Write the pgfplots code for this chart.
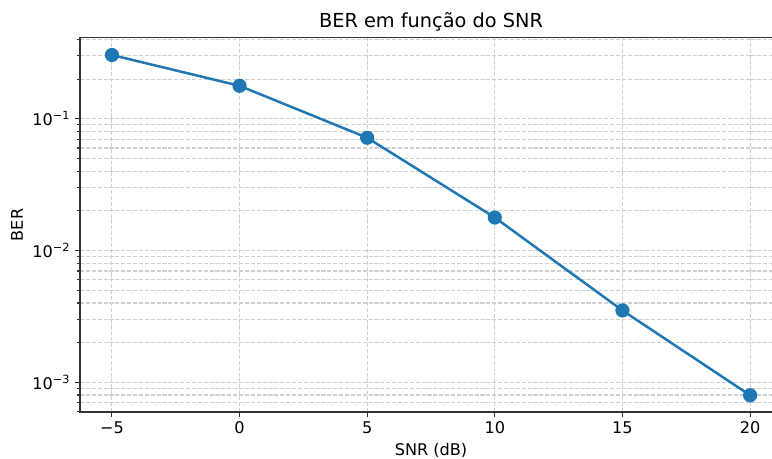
\documentclass[border=0pt]{standalone}
\usepackage{fontspec}
\setmainfont{DejaVu Sans}
\usepackage{pgfplots}
\pgfplotsset{compat=1.18}
\definecolor{mplblue}{HTML}{1F77B4}
\definecolor{gridc}{HTML}{D0D0D0}
\definecolor{spine}{HTML}{333333}
\begin{document}
\begin{tikzpicture}
\begin{axis}[
  name=ax, at={(0,0)}, anchor=south west,
  scale only axis, width=505.4pt, height=269.3pt,
  xmin=-6.25, xmax=21.25,
  ymode=log, ymin=5.95e-4, ymax=0.411,
  xtick={-5,0,5,10,15,20},
  xticklabels={−5,0,5,10,15,20},
  ytick={1e-3,1e-2,1e-1},
  yticklabels={10\textsuperscript{−3},10\textsuperscript{−2},10\textsuperscript{−1}},
  minor ytick={6e-4,7e-4,8e-4,9e-4,2e-3,3e-3,4e-3,5e-3,6e-3,7e-3,8e-3,9e-3,2e-2,3e-2,4e-2,5e-2,6e-2,7e-2,8e-2,9e-2,2e-1,3e-1,4e-1},
  tick pos=left, tick align=outside,
  major tick length=3.5pt, minor tick length=2pt,
  every tick/.style={spine, line width=0.8pt},
  axis line style={spine, line width=0.8pt},
  xmajorgrids, ymajorgrids, yminorgrids,
  major grid style={gridc, line width=0.8pt, dash pattern=on 2.96pt off 1.28pt},
  minor grid style={gridc, line width=0.8pt, dash pattern=on 2.96pt off 1.28pt},
  ticklabel style={font=\fontsize{11.6}{13}\selectfont},
  title={BER em função do SNR},
  title style={font=\fontsize{13.9}{16}\selectfont, yshift=-5pt},
  xlabel={SNR (dB)}, ylabel={BER},
  label style={font=\fontsize{11.6}{13}\selectfont},
]
\addplot[mplblue, line width=1.8pt, mark=*, mark size=4.2pt, mark options={solid, fill=mplblue, draw=none}]
  coordinates {(-5,0.305) (0,0.178) (5,0.0718) (10,0.0178) (15,0.00351) (20,0.000797)};
\end{axis}
\pgfresetboundingbox
\path[use as bounding box] (-57.6pt,-33.8pt) rectangle (498.2pt,296.6pt);
\end{tikzpicture}
\end{document}
